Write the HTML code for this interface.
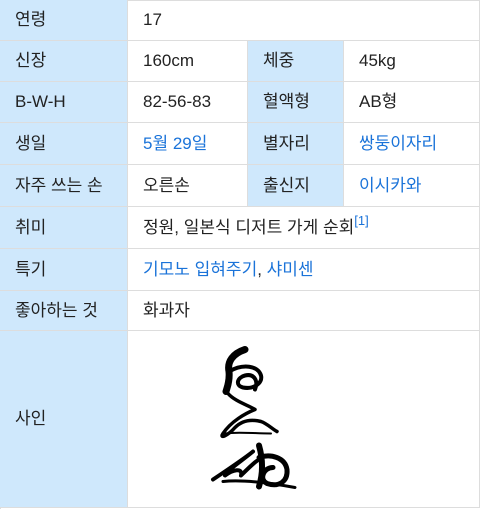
<!DOCTYPE html>
<html><head><meta charset="utf-8"><style>
body{margin:0;width:480px;height:509px;background:#fff;overflow:hidden;font-family:"Liberation Sans","Noto Sans CJK KR",sans-serif;font-size:17px;color:#222}
.c{position:absolute;box-sizing:border-box;display:flex;align-items:center;padding-left:15px;border-right:1px solid #ddd;border-bottom:1px solid #ddd;line-height:20px}
.h{background:#cfe8fc}
a{color:#1a73d9;text-decoration:none}
.sup{font-size:13px;color:#1a73d9;position:relative;top:-7px}
</style></head><body>
<div style="position:absolute;left:0;top:0;width:480px;height:509px;border-top:1px solid #ddd;border-left:1px solid #ddd;box-sizing:border-box"></div>
<div class="c h" style="left:0;top:0;width:128px;height:41px">연령</div>
<div class="c" style="left:128px;top:0;width:352px;height:41px">17</div>
<div class="c h" style="left:0;top:41px;width:128px;height:41px">신장</div>
<div class="c" style="left:128px;top:41px;width:120px;height:41px">160cm</div>
<div class="c h" style="left:248px;top:41px;width:96px;height:41px">체중</div>
<div class="c" style="left:344px;top:41px;width:136px;height:41px">45kg</div>
<div class="c h" style="left:0;top:82px;width:128px;height:41px">B-W-H</div>
<div class="c" style="left:128px;top:82px;width:120px;height:41px">82-56-83</div>
<div class="c h" style="left:248px;top:82px;width:96px;height:41px">혈액형</div>
<div class="c" style="left:344px;top:82px;width:136px;height:41px">AB형</div>
<div class="c h" style="left:0;top:123px;width:128px;height:42px">생일</div>
<div class="c" style="left:128px;top:123px;width:120px;height:42px"><a>5월 29일</a></div>
<div class="c h" style="left:248px;top:123px;width:96px;height:42px">별자리</div>
<div class="c" style="left:344px;top:123px;width:136px;height:42px"><a>쌍둥이자리</a></div>
<div class="c h" style="left:0;top:165px;width:128px;height:42px">자주 쓰는 손</div>
<div class="c" style="left:128px;top:165px;width:120px;height:42px">오른손</div>
<div class="c h" style="left:248px;top:165px;width:96px;height:42px">출신지</div>
<div class="c" style="left:344px;top:165px;width:136px;height:42px"><a>이시카와</a></div>
<div class="c h" style="left:0;top:207px;width:128px;height:42px">취미</div>
<div class="c" style="left:128px;top:207px;width:352px;height:42px">정원, 일본식 디저트 가게 순회<span class="sup">[1]</span></div>
<div class="c h" style="left:0;top:249px;width:128px;height:42px">특기</div>
<div class="c" style="left:128px;top:249px;width:352px;height:42px"><a>기모노 입혀주기</a>,&nbsp;<a>샤미센</a></div>
<div class="c h" style="left:0;top:291px;width:128px;height:40px">좋아하는 것</div>
<div class="c" style="left:128px;top:291px;width:352px;height:40px">화과자</div>
<div class="c h" style="left:0;top:331px;width:128px;height:177px">사인</div>
<div class="c" style="left:128px;top:331px;width:352px;height:177px">
<svg style="position:absolute;left:55px;top:8px" width="140" height="165" viewBox="0 0 140 160">
<g fill="none" stroke="#000" stroke-linecap="round" stroke-linejoin="round">
<path d="M62 8 C50 12 44 20 46 30 C47 40 44 46 43 50" stroke-width="7"/>
<path d="M46 30 C60 22 75 24 78 34 C80 42 70 48 60 46 C52 44 54 36 62 34 C70 32 76 38 72 48" stroke-width="4"/>
<path d="M45 52 C52 60 66 64 72 68 C62 72 48 80 40 92 C36 98 45 94 52 86 C60 78 70 78 78 80 C84 82 90 88 94 90" stroke-width="3.5"/>
<path d="M42 92 C55 90 70 92 88 92" stroke-width="2"/>
<path d="M30 138 C45 128 60 118 70 110 C58 120 45 128 42 134 C50 128 60 126 58 134 C64 128 72 120 76 118" stroke-width="4"/>
<path d="M76 104 C80 118 80 132 76 145" stroke-width="6"/>
<path d="M76 116 C88 112 102 116 104 128 C105 140 96 146 84 142 C76 138 80 126 90 126" stroke-width="5"/>
<path d="M40 140 C60 138 90 142 112 146" stroke-width="3"/>
</g></svg>
</div>
</body></html>
